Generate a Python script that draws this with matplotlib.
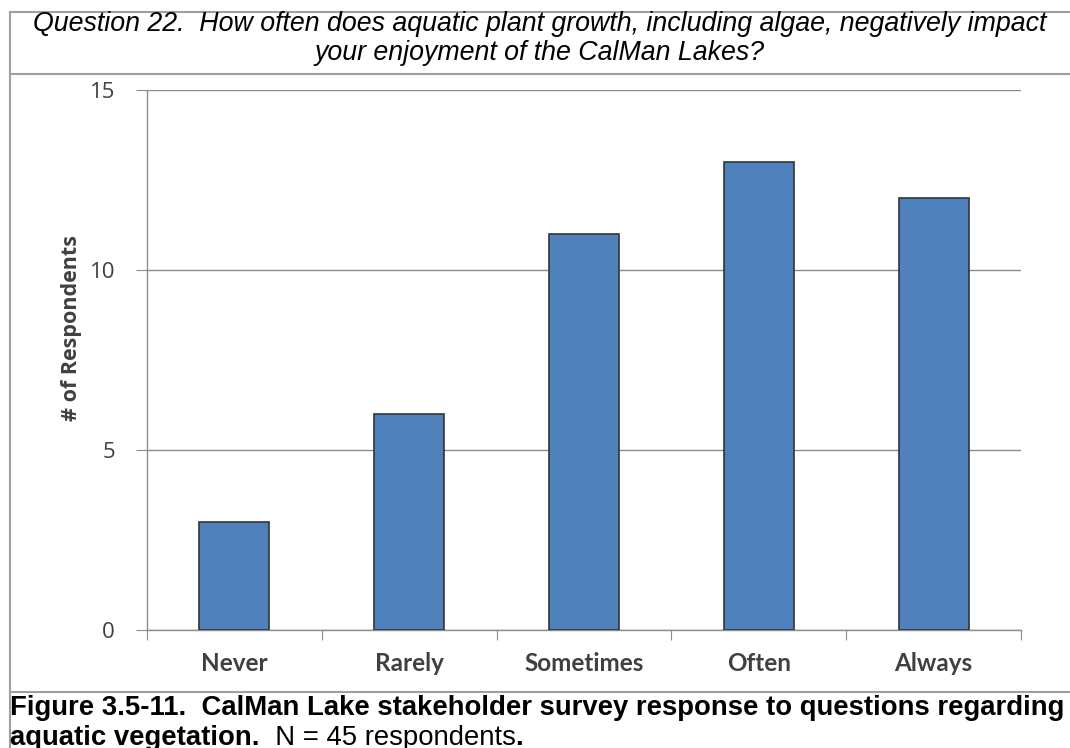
import matplotlib
matplotlib.use("Agg")
import matplotlib.pyplot as plt
from matplotlib.lines import Line2D

categories = ["Never", "Rarely", "Sometimes", "Often", "Always"]
respondents = [3, 6, 11, 13, 12]
y_ticks = [0, 5, 10, 15]

title = ("Question 22.  How often does aquatic plant growth, including algae, negatively impact\n"
         "your enjoyment of the CalMan Lakes?")
caption_bold = "Figure 3.5-11.  CalMan Lake stakeholder survey response to questions regarding"
caption_2a = "aquatic vegetation."
caption_2b = "  N = 45 respondents"

W, H = 1070, 748
fig = plt.figure(figsize=(W / 100, H / 100), dpi=100)

# axes box in pixel coords
left, right, top, bottom = 147, 1021, 90, 630
ax = fig.add_axes([left / W, 1 - bottom / H, (right - left) / W, (bottom - top) / H])

x = range(len(categories))
ax.bar(x, respondents, width=0.4, color="#4F81BD", edgecolor="#333333", linewidth=1.2, zorder=3)
ax.set_xlim(-0.5, len(categories) - 0.5)
ax.set_ylim(0, 15)
ax.set_yticks(y_ticks)
ax.yaxis.grid(True, color="#8c8c8c", linewidth=1.0, zorder=0)

for s in ["top", "right"]:
    ax.spines[s].set_visible(False)
for s in ["left", "bottom"]:
    ax.spines[s].set_color("#8c8c8c")
    ax.spines[s].set_linewidth(1.0)

# category labels at centres, ticks at boundaries (excel style)
ax.set_xticks([i - 0.5 for i in range(len(categories) + 1)])
ax.set_xticklabels([])
ax.set_xticks(list(x), minor=True)
ax.set_xticklabels(categories, minor=True, fontsize=17.5, fontweight="bold", color="#404040",
                   family="Lato")
ax.tick_params(axis="x", which="minor", length=0, pad=16)
ax.tick_params(axis="x", which="major", length=7, color="#8c8c8c", direction="out")
ax.tick_params(axis="y", length=8, color="#8c8c8c", direction="out", labelsize=16,
               labelcolor="#404040", pad=15)
for lbl in ax.get_yticklabels():
    lbl.set_family("Open Sans")

ax.set_ylabel("# of Respondents", fontsize=15.5, fontweight="bold", color="#404040",
              family="Open Sans")
ax.yaxis.set_label_coords(-0.074, 0.56)

# title and caption
fs = 19.3
fig.text(0.5 + 10 / W / 2, 1 - 11 / H, title, ha="center", va="top", fontsize=fs,
         style="italic", family="Liberation Sans", linespacing=1.13)
cfs = 19.8
fig.text(10 / W, 1 - 695 / H, caption_bold, ha="left", va="top", fontsize=cfs,
         fontweight="bold", family="Liberation Sans")
t = fig.text(10 / W, 1 - 725 / H, caption_2a, ha="left", va="top", fontsize=cfs,
             fontweight="bold", family="Liberation Sans")
fig.canvas.draw()
bb = t.get_window_extent()
t2 = fig.text(bb.x1 / W, 1 - 725 / H, caption_2b, ha="left", va="top", fontsize=cfs,
              family="Liberation Sans")
fig.canvas.draw()
bb2 = t2.get_window_extent()
fig.text(bb2.x1 / W, 1 - 725 / H, ".", ha="left", va="top", fontsize=cfs,
         fontweight="bold", family="Liberation Sans")

# frame lines
gray = "#a0a0a0"
def hline(y, x0, x1, lw=1.5):
    fig.add_artist(Line2D([x0 / W, x1 / W], [1 - y / H, 1 - y / H], color=gray, lw=lw,
                          transform=fig.transFigure))
def vline(x_, y0, y1, lw=1.5):
    fig.add_artist(Line2D([x_ / W, x_ / W], [1 - y0 / H, 1 - y1 / H], color=gray, lw=lw,
                          transform=fig.transFigure))

hline(12, 10, W)
hline(74, 10, W)
hline(692, 10, W)
vline(10, 12, H)

fig.savefig("out.png", dpi=100)
